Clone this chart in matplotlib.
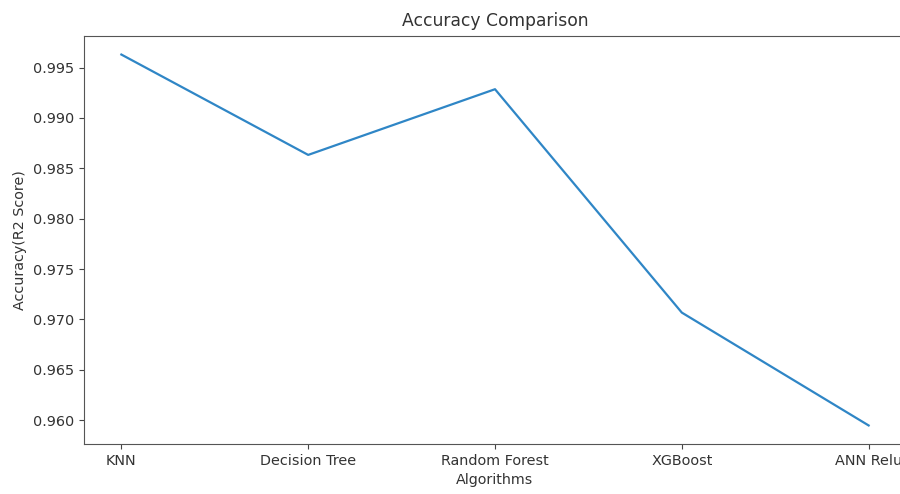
import matplotlib
matplotlib.use("Agg")
import matplotlib.pyplot as plt

algorithms = ["KNN", "Decision Tree", "Random Forest", "XGBoost", "ANN Relu"]
accuracy = [0.99629, 0.98633, 0.99285, 0.97068, 0.95948]

plt.rcParams['font.family'] = ['DejaVu Sans']
plt.rcParams['text.color'] = '#333333'
plt.rcParams['axes.labelcolor'] = '#333333'
plt.rcParams['xtick.color'] = '#444444'
plt.rcParams['ytick.color'] = '#444444'
plt.rcParams['xtick.labelcolor'] = '#333333'
plt.rcParams['ytick.labelcolor'] = '#333333'

fig = plt.figure(figsize=(9, 4.94), dpi=100)
ax = fig.add_axes([84/900, 50/494, (906-84)/900, (444-36)/494])
ax.plot(algorithms, accuracy, color='#2f86c6', linewidth=1.6)
ax.set_title("Accuracy Comparison", fontsize=12.3, pad=7)
ax.set_xlabel("Algorithms", fontsize=10.3)
ax.set_ylabel("Accuracy(R2 Score)", fontsize=10.3)
ax.set_yticks([0.960, 0.965, 0.970, 0.975, 0.980, 0.985, 0.990, 0.995])
ax.set_yticklabels(["0.960", "0.965", "0.970", "0.975", "0.980", "0.985", "0.990", "0.995"])
for s in ax.spines.values():
    s.set_color('#555555')
ax.tick_params(labelsize=10.4)
fig.savefig("out.png", dpi=100)
